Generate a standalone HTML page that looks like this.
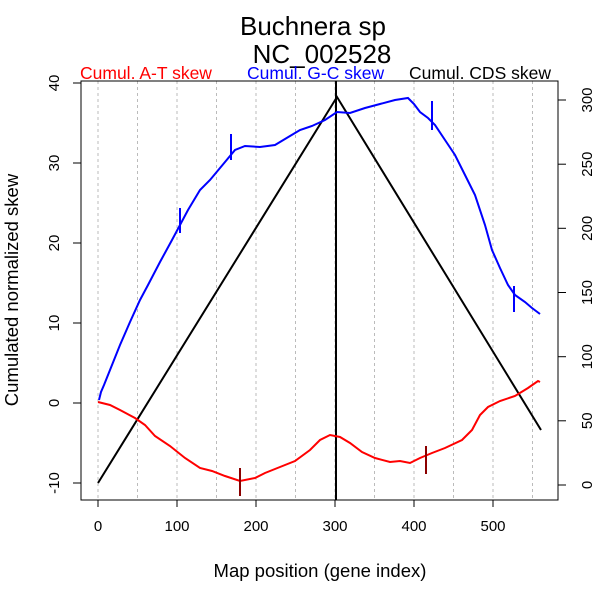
<!DOCTYPE html>
<html><head><meta charset="utf-8"><style>body{margin:0;background:#fff}</style></head><body>
<svg width="600" height="600" xmlns="http://www.w3.org/2000/svg" font-family="Liberation Sans, sans-serif">
<rect width="600" height="600" fill="#fff"/>
<text x="313" y="35" font-size="26" text-anchor="middle">Buchnera sp</text>
<text x="322" y="63" font-size="26" text-anchor="middle">NC_002528</text>
<text x="80" y="79" font-size="17.5" fill="#ff0000">Cumul. A-T skew</text>
<text x="247" y="79" font-size="17.5" fill="#0000ff">Cumul. G-C skew</text>
<text x="409" y="79" font-size="17.5" fill="#000">Cumul. CDS skew</text>
<g stroke="#bbb" stroke-dasharray="3,3" stroke-width="1">
<line x1="98" y1="81" x2="98" y2="500"/><line x1="137.5" y1="81" x2="137.5" y2="500"/>
<line x1="177" y1="81" x2="177" y2="500"/><line x1="216.5" y1="81" x2="216.5" y2="500"/>
<line x1="256" y1="81" x2="256" y2="500"/><line x1="295.5" y1="81" x2="295.5" y2="500"/>
<line x1="335" y1="81" x2="335" y2="500"/><line x1="374.5" y1="81" x2="374.5" y2="500"/>
<line x1="414" y1="81" x2="414" y2="500"/><line x1="453.5" y1="81" x2="453.5" y2="500"/>
<line x1="493" y1="81" x2="493" y2="500"/><line x1="532.5" y1="81" x2="532.5" y2="500"/>
</g>
<rect x="81" y="81" width="477" height="419" fill="none" stroke="#000" stroke-width="1"/>
<g stroke="#000" stroke-width="1">
<line x1="98" y1="500" x2="98" y2="507"/><line x1="177" y1="500" x2="177" y2="507"/>
<line x1="256" y1="500" x2="256" y2="507"/><line x1="335" y1="500" x2="335" y2="507"/>
<line x1="414" y1="500" x2="414" y2="507"/><line x1="493" y1="500" x2="493" y2="507"/>
<line x1="81" y1="83" x2="73" y2="83"/><line x1="81" y1="163" x2="73" y2="163"/>
<line x1="81" y1="243" x2="73" y2="243"/><line x1="81" y1="323" x2="73" y2="323"/>
<line x1="81" y1="403" x2="73" y2="403"/><line x1="81" y1="483" x2="73" y2="483"/>
<line x1="558" y1="485" x2="566" y2="485"/><line x1="558" y1="420.8" x2="566" y2="420.8"/>
<line x1="558" y1="356.7" x2="566" y2="356.7"/><line x1="558" y1="292.5" x2="566" y2="292.5"/>
<line x1="558" y1="228.3" x2="566" y2="228.3"/><line x1="558" y1="164.2" x2="566" y2="164.2"/>
<line x1="558" y1="100" x2="566" y2="100"/>
</g>
<g font-size="15" text-anchor="middle">
<text x="98" y="531">0</text><text x="177" y="531">100</text><text x="256" y="531">200</text>
<text x="335" y="531">300</text><text x="414" y="531">400</text><text x="493" y="531">500</text>
</g>
<g font-size="15" text-anchor="middle">
<text transform="translate(59,83) rotate(-90)">40</text>
<text transform="translate(59,163) rotate(-90)">30</text>
<text transform="translate(59,243) rotate(-90)">20</text>
<text transform="translate(59,323) rotate(-90)">10</text>
<text transform="translate(59,403) rotate(-90)">0</text>
<text transform="translate(59,483) rotate(-90)">-10</text>
<text transform="translate(592,485) rotate(-90)">0</text>
<text transform="translate(592,420.8) rotate(-90)">50</text>
<text transform="translate(592,356.7) rotate(-90)">100</text>
<text transform="translate(592,292.5) rotate(-90)">150</text>
<text transform="translate(592,228.3) rotate(-90)">200</text>
<text transform="translate(592,164.2) rotate(-90)">250</text>
<text transform="translate(592,100) rotate(-90)">300</text>
</g>
<text x="320" y="577" font-size="18.5" text-anchor="middle">Map position (gene index)</text>
<text transform="translate(18,290) rotate(-90)" font-size="18.5" text-anchor="middle">Cumulated normalized skew</text>
<polyline fill="none" stroke="#000" stroke-width="2" points="98,483 337,97 541,430"/>
<line x1="336" y1="81" x2="336" y2="500" stroke="#000" stroke-width="2"/>
<polyline fill="none" stroke="#0000ff" stroke-width="2" points="99,400 101,392 104,385 110,370 120,345 130,322 140,300 148,285 160,262 172,240 180,225 188,210 200,190 210,180 225,162 235,150 245,146 260,147 275,145 290,136 300,130 312,126 325,120 337,112 350,113 365,108 380,104 395,100 408,98 414,104 420,112 428,118 435,125 445,140 455,155 465,175 475,195 485,225 492,250 500,268 508,285 515,295 525,302 532,308 540,314"/>
<polyline fill="none" stroke="#ff0000" stroke-width="2" points="98,402 110,405 120,410 135,418 145,425 155,436 170,446 185,458 200,468 212,471 225,476 240,481 255,478 265,473 280,467 295,461 310,450 320,440 330,435 340,437 350,443 362,452 375,458 390,462 400,461 410,463 420,458 432,453 445,448 462,440 472,430 480,415 488,407 500,401 515,396 528,388 538,381 540,382"/>
<g stroke="#8b0000" stroke-width="2"><line x1="240" y1="468" x2="240" y2="496"/><line x1="426" y1="446" x2="426" y2="474"/></g>
<g stroke="#0000ff" stroke-width="2"><line x1="231" y1="134" x2="231" y2="160"/><line x1="180" y1="208" x2="180" y2="233"/><line x1="432" y1="101" x2="432" y2="130"/><line x1="514" y1="286" x2="514" y2="312"/></g>
</svg>
</body></html>
